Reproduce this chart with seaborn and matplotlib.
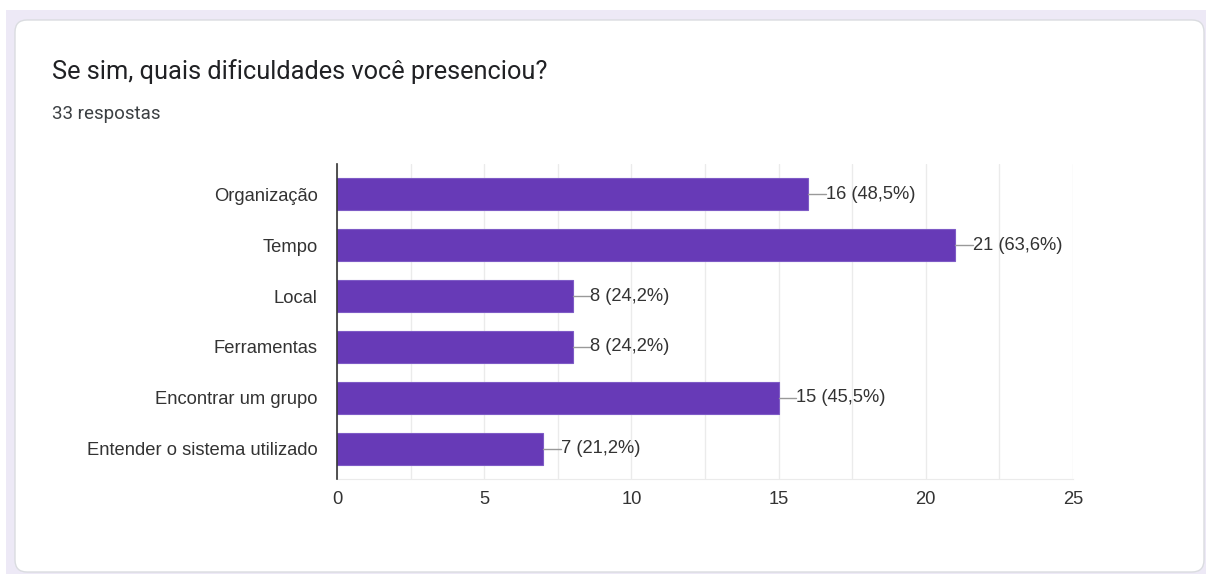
import matplotlib.pyplot as plt
import seaborn as sns
import pandas as pd
from matplotlib.patches import FancyBboxPatch, Rectangle

# Data
categories = ["Organização", "Tempo", "Local", "Ferramentas",
              "Encontrar um grupo", "Entender o sistema utilizado"]
counts = [16, 21, 8, 8, 15, 7]
percents = ["48,5%", "63,6%", "24,2%", "24,2%", "45,5%", "21,2%"]
title = "Se sim, quais dificuldades você presenciou?"
subtitle = "33 respostas"
x_ticks = [0, 5, 10, 15, 20, 25]

df = pd.DataFrame({"categoria": categories, "respostas": counts})

sns.set_style("white")
plt.rcParams["font.family"] = ["Liberation Sans", "DejaVu Sans"]

W, H = 1206, 574
fig = plt.figure(figsize=(W / 100, H / 100), dpi=100)
fig.patch.set_facecolor("white")

# page background and card
fig.patches.append(Rectangle((6 / W, 0), 1 - 6 / W, 1 - 10 / H, transform=fig.transFigure,
                             facecolor="#ede9f6", edgecolor="none", zorder=-3))
fig.patches.append(FancyBboxPatch((15 / W, 2 / H), (1204 - 15) / W, (554 - 2) / H,
                                  boxstyle="round,pad=0,rounding_size=0.01",
                                  transform=fig.transFigure, facecolor="white",
                                  edgecolor="#dadce0", linewidth=1, zorder=-2,
                                  mutation_aspect=W / H))

fig.text(52 / W, 1 - 72 / H, title, fontsize=18.3, color="#202124",
         family=["Roboto", "DejaVu Sans"], va="center", ha="left")
fig.text(52 / W, 1 - 114 / H, subtitle, fontsize=13.5, color="#3c4043",
         family=["Roboto", "DejaVu Sans"], va="center", ha="left")

ax = fig.add_axes([337 / W, 1 - 479 / H, (1073 - 337) / W, (479 - 164) / H])
ax.set_facecolor("none")

sns.barplot(data=df, x="respostas", y="categoria", orient="h", color="#673ab7",
            width=0.62, saturation=1, ax=ax, zorder=3,
            edgecolor="#7e5bc6", linewidth=0.8)

ax.set_xlim(0, 25)
ax.set_xticks(x_ticks)
ax.set_xticks([2.5, 7.5, 12.5, 17.5, 22.5], minor=True)
ax.grid(True, axis="x", which="both", color="#ebebeb", linewidth=1, zorder=0)
ax.set_xlabel("")
ax.set_ylabel("")

for s in ["top", "right"]:
    ax.spines[s].set_visible(False)
ax.spines["bottom"].set_color("#ebebeb")
ax.spines["left"].set_color("#333333")
ax.spines["left"].set_linewidth(1.2)
ax.spines["left"].set_zorder(5)

ax.tick_params(axis="both", length=0, labelsize=13.2, colors="#333333")
ax.tick_params(axis="y", pad=14)
ax.tick_params(axis="x", pad=9)

for i, (v, p) in enumerate(zip(counts, percents)):
    ax.plot([v, v + 0.6], [i, i], color="#999999", linewidth=1, zorder=4)
    ax.text(v + 0.6, i, f"{v} ({p})", va="center", ha="left",
            fontsize=13.2, color="#333333", zorder=4)

fig.savefig("out.png", dpi=100)
